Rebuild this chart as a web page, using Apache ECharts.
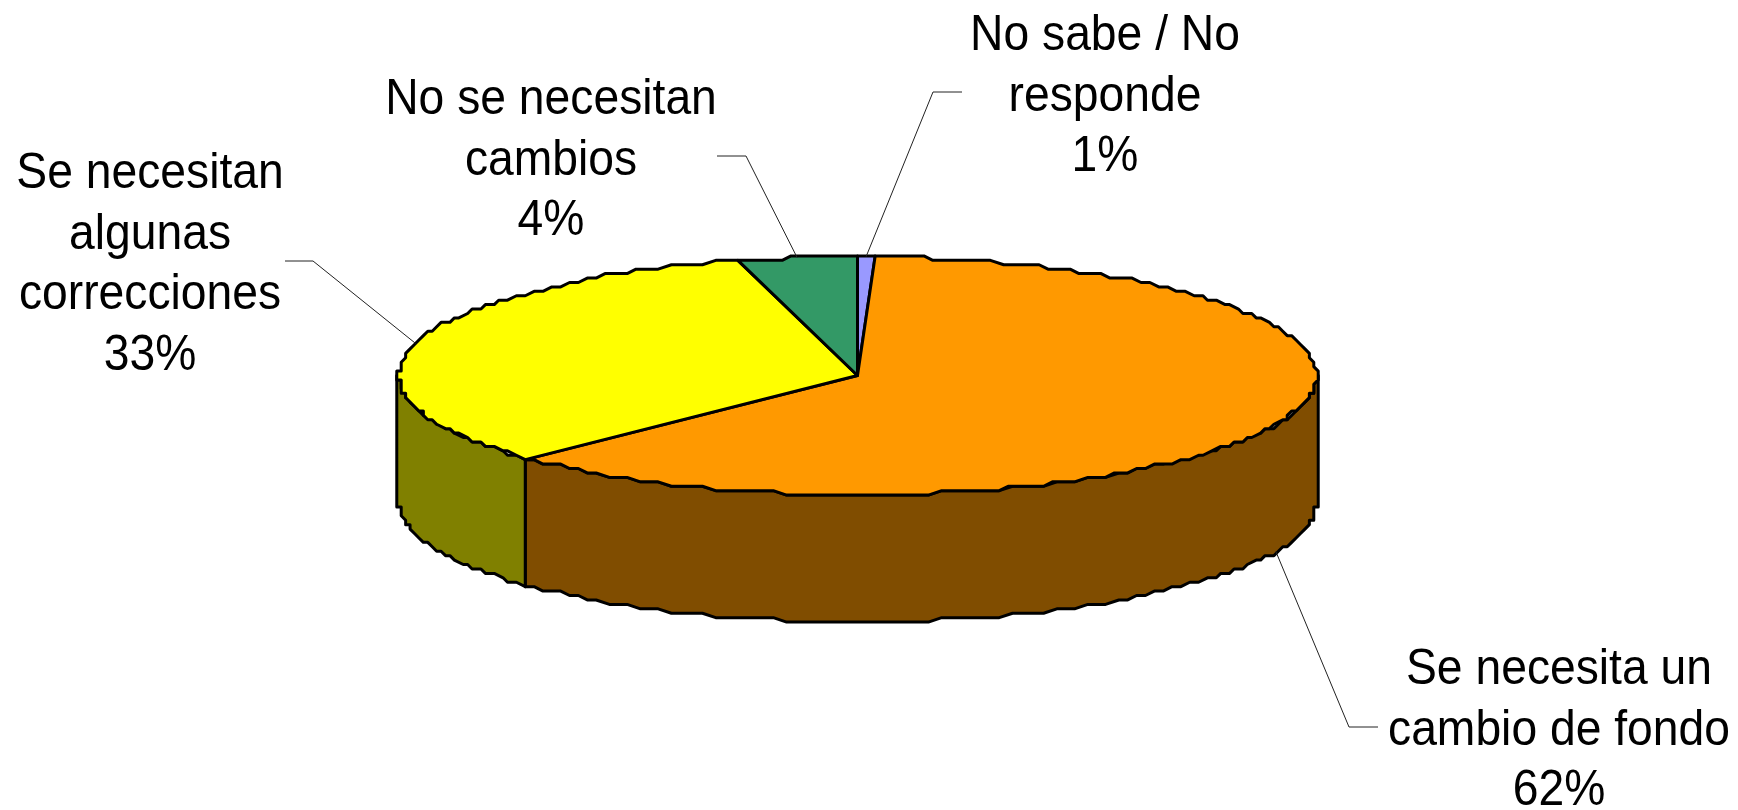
<!DOCTYPE html>
<html>
<head>
<meta charset="utf-8">
<style>html,body{margin:0;padding:0;background:#fff}#c{width:1738px;height:810px}</style>
<script src="https://cdn.jsdelivr.net/npm/echarts@6/dist/echarts.min.js"></script>
</head>
<body>
<div id="c"></div>
<script>
// Data
var categories = ['No sabe / No\nresponde', 'Se necesita un\ncambio de fondo', 'Se necesitan\nalgunas\ncorrecciones', 'No se necesitan\ncambios'];
var values = [0.6, 62.3, 32.9, 4.2];
// Styles
var topColors = ['#9999FF', '#FF9900', '#FFFF00', '#339966'];
var sideColors = ['#4D4D80', '#804D00', '#808000', '#1A4D33'];
// Layout
var CX = 857.5, CY = 375.5, RX = 459, RY = 119, DEPTH = 127, GRID = 4.43;
var labelCenters = [[1105, 97], [1559, 731], [150, 265], [551, 161]];
var elbowStart = [[962, 92], [1378, 727], [285, 261], [717, 156]];
var elbowMid = [[933, 92], [1349, 727], [313, 261], [746, 156]];
var FONT_SIZE = 50, LINE_H = 60.5, SCALE_X = 0.925;

var total = values.reduce(function (a, b) { return a + b; }, 0);
var cumul = [];
values.reduce(function (a, v, i) { cumul[i] = a; return a + v; }, 0);
function ang(v) { return v / total * 360; }
function qx(v) { return CX + Math.round((v - CX) / GRID) * GRID; }
function qy(v) { return CY + Math.round((v - CY) / GRID) * GRID; }
function pt(deg, dy) {
  var r = deg * Math.PI / 180;
  return [qx(CX + RX * Math.sin(r)), qy(CY - RY * Math.cos(r)) + (dy || 0)];
}
function arc(a0, a1, dy) {
  var pts = [], n = Math.max(1, Math.ceil(Math.abs(a1 - a0) / 1.5));
  for (var i = 0; i <= n; i++) pts.push(pt(a0 + (a1 - a0) * i / n, dy));
  return pts;
}
var stroke = '#000', LW = 3;

function renderSide(params, api) {
  var i = params.dataIndex, a0 = ang(cumul[i]), a1 = a0 + ang(api.value(0));
  var s = Math.max(a0, 90), e = Math.min(a1, 270);
  if (e <= s) return { type: 'group', children: [] };
  var pts = arc(s, e, 0).concat(arc(e, s, DEPTH));
  return { type: 'polygon', shape: { points: pts },
    style: { fill: sideColors[i], stroke: stroke, lineWidth: LW, lineJoin: 'round' } };
}
function renderTop(params, api) {
  var i = params.dataIndex, a0 = ang(cumul[i]), a1 = a0 + ang(api.value(0));
  var pts = [[CX, CY]].concat(arc(a0, a1, 0));
  return { type: 'polygon', shape: { points: pts },
    style: { fill: topColors[i], stroke: stroke, lineWidth: LW, lineJoin: 'round' } };
}
function renderLabel(params, api) {
  var i = params.dataIndex, v = api.value(0), a0 = ang(cumul[i]), mid = a0 + ang(v) / 2;
  var r = mid * Math.PI / 180;
  var anchor = [CX + RX * Math.sin(r), CY - RY * Math.cos(r)];
  if (mid > 90 && mid < 270) anchor[1] += DEPTH;
  return { type: 'group', children: [
    { type: 'polyline', shape: { points: [elbowStart[i], elbowMid[i], anchor] },
      style: { fill: 'none', stroke: '#222', lineWidth: 1 } },
    { type: 'text', x: labelCenters[i][0], y: labelCenters[i][1], scaleX: SCALE_X,
      style: { text: categories[i] + '\n' + Math.round(v / total * 100) + '%',
        x: 0, y: 0, align: 'center', verticalAlign: 'middle',
        font: FONT_SIZE + 'px "Liberation Sans", Arial, sans-serif',
        lineHeight: LINE_H, fill: '#000' } }
  ] };
}
var rows = values.map(function (v, i) { return { name: categories[i], value: [v] }; });
var chart = echarts.init(document.getElementById('c'), null, { renderer: 'canvas' });
chart.setOption({
  animation: false,
  backgroundColor: '#fff',
  tooltip: { show: false },
  series: [
    { type: 'custom', coordinateSystem: 'none', silent: true, z: 1, data: rows, renderItem: renderSide },
    { type: 'custom', coordinateSystem: 'none', silent: true, z: 2, data: rows, renderItem: renderTop },
    { type: 'custom', coordinateSystem: 'none', silent: true, z: 3, data: rows, renderItem: renderLabel }
  ]
});
</script>
</body>
</html>
